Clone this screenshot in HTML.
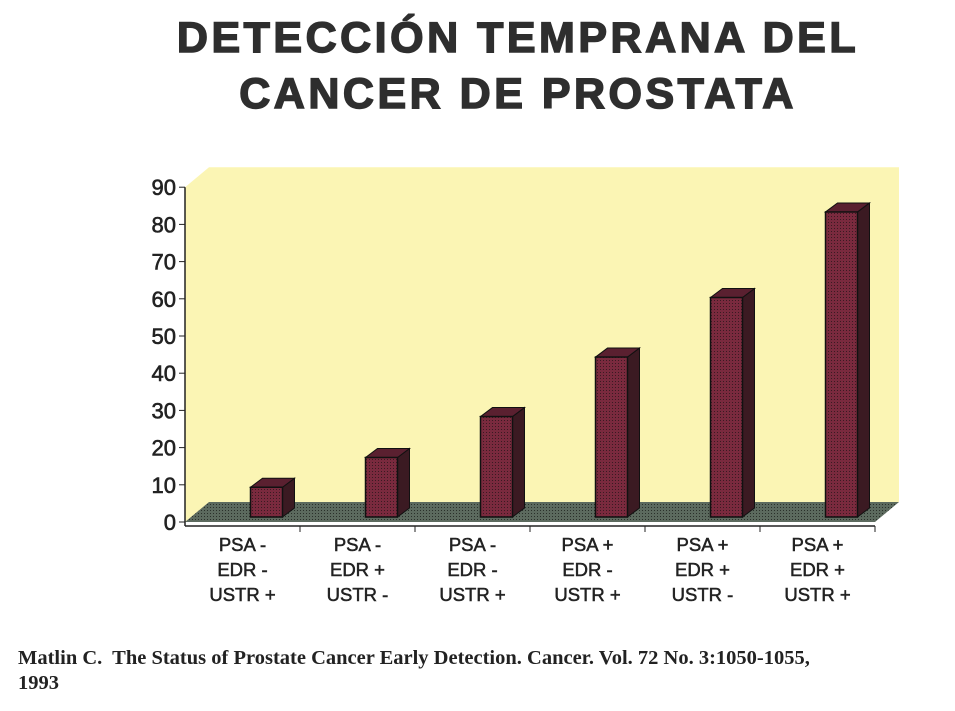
<!DOCTYPE html>
<html><head><meta charset="utf-8"><style>
body{margin:0;background:#fff;width:955px;height:711px;overflow:hidden;font-family:"Liberation Sans",sans-serif}
.t{position:absolute;left:0;width:1036px;text-align:center;font-weight:bold;font-size:43px;color:#2e2e2e;letter-spacing:3.5px;-webkit-text-stroke:1.5px #2e2e2e}
.c{position:absolute;left:18px;font-family:"Liberation Serif",serif;font-weight:bold;font-size:20.5px;color:#222}
</style></head><body>
<div class="t" style="top:14px">DETECCIÓN TEMPRANA DEL</div>
<div class="t" style="top:70px">CANCER DE PROSTATA</div>
<svg id="ch" width="955" height="711" style="position:absolute;left:0;top:0">
<defs><pattern id="dots" width="3" height="3" patternUnits="userSpaceOnUse"><rect width="3" height="3" fill="#7a2a3e"/><rect width="1" height="1" fill="#3a1a22"/></pattern>
<pattern id="fl" width="3" height="3" patternUnits="userSpaceOnUse"><rect width="3" height="3" fill="#5c6a5e"/><rect width="1" height="1" fill="#2a302a"/></pattern></defs>
</svg>
<div class="c" style="top:647px">Matlin C.&nbsp; The Status of Prostate Cancer Early Detection. Cancer. Vol. 72 No. 3:1050-1055,</div>
<div class="c" style="top:672px">1993</div>
<script>
const categories=[["PSA -","EDR -","USTR +"],["PSA -","EDR +","USTR -"],["PSA -","EDR -","USTR +"],["PSA +","EDR -","USTR +"],["PSA +","EDR +","USTR -"],["PSA +","EDR +","USTR +"]];
const values=[8,16,27,43,59,82];
const yTicks=[0,10,20,30,40,50,60,70,80,90];
const NS="http://www.w3.org/2000/svg";
const svg=document.getElementById('ch');
const X0=185,CW=115,Y0=522,PX=3.72,DX=24,DY=20;
const y=v=>Y0-v*PX;
const xc=i=>X0+CW*(i+0.5);
function mk(t,a,p){const e=document.createElementNS(NS,t);for(const k in a)e.setAttribute(k,a[k]);(p||svg).appendChild(e);return e;}
let w=mk('polygon',{points:`${X0},${y(90)} ${X0+DX},${y(90)-DY} ${X0+DX+CW*6},${y(90)-DY} ${X0+DX+CW*6},${Y0-DY} ${X0},${Y0}`,fill:'#fbf5b4'});


let f=mk('polygon',{points:`${X0},${Y0} ${X0+DX},${Y0-DY} ${X0+DX+CW*6},${Y0-DY} ${X0+CW*6},${Y0}`,fill:'url(#fl)'});


let ax=mk('line',{x1:X0,y1:y(90),x2:X0,y2:Y0+4,stroke:'#222','stroke-width':1.5});


let bx=mk('line',{x1:X0,y1:Y0+4,x2:X0+CW*6,y2:Y0+4,stroke:'#222','stroke-width':1.5});


yTicks.forEach(v=>{
 let l=mk('line',{x1:X0-6,y1:y(v),x2:X0,y2:y(v),stroke:'#222'});
 
 
 let t=mk('text',{x:X0-9,y:y(v)+8,'text-anchor':'end','font-size':22,'font-family':'Liberation Sans,sans-serif',fill:'#222',stroke:'#222','stroke-width':0.6});
 t.textContent=v;
 
 
});
for(let i=1;i<=6;i++){let l=mk('line',{x1:X0+CW*i,y1:Y0+4,x2:X0+CW*i,y2:Y0+10,stroke:'#222'});}
values.forEach((v,i)=>{
 const g=mk('g',{});
 
 
 const bw=32,x1=xc(i)+8,x2=x1+bw,dx=12,dy=9,yb=Y0-5,yt=yb-v*PX;
 mk('polygon',{points:`${x2},${yb} ${x2+dx},${yb-dy} ${x2+dx},${yt-dy} ${x2},${yt}`,fill:'#3b1a22',stroke:'#111'},g);
 mk('polygon',{points:`${x1},${yt} ${x1+dx},${yt-dy} ${x2+dx},${yt-dy} ${x2},${yt}`,fill:'#5a2030',stroke:'#111'},g);
 mk('rect',{x:x1,y:yt,width:bw,height:yb-yt,fill:'url(#dots)',stroke:'#111','stroke-width':1.5},g);
 categories[i].forEach((s,j)=>{
  let t=mk('text',{x:xc(i),y:Y0+29+j*25,'text-anchor':'middle','font-size':18.5,'font-family':'Liberation Sans,sans-serif',fill:'#222',stroke:'#222','stroke-width':0.5});
  t.textContent=s;
  
  
 });
});
</script>
</body></html>
